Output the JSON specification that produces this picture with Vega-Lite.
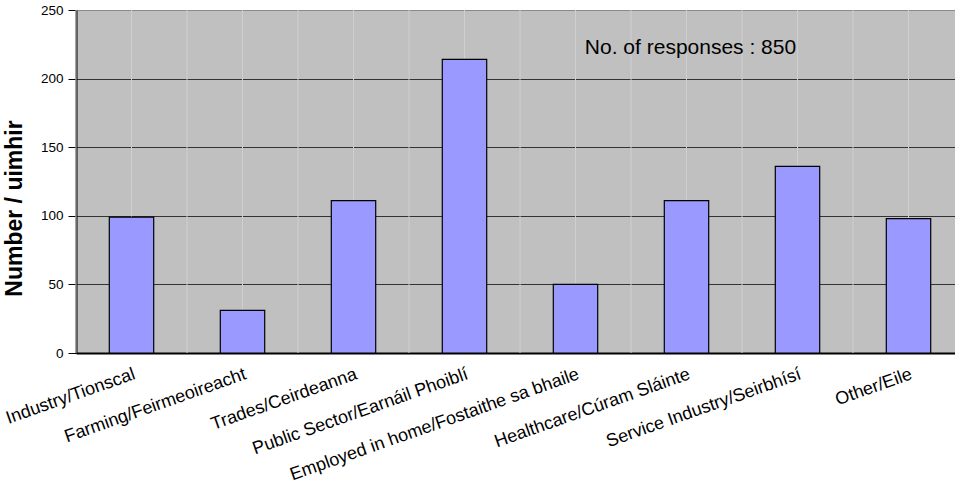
{
  "$schema": "https://vega.github.io/schema/vega-lite/v6.json",
  "autosize": {"type": "none"},
  "width": 879,
  "height": 343,
  "padding": {"left": 76, "top": 10, "right": 0, "bottom": 142},
  "background": "white",
  "config": {
    "font": "Liberation Sans",
    "view": {"fill": "#C0C0C0", "stroke": null}
  },
  "data": {
    "values": [
      {"category": "Industry/Tionscal", "count": 99},
      {"category": "Farming/Feirmeoireacht", "count": 31},
      {"category": "Trades/Ceirdeanna", "count": 111},
      {"category": "Public Sector/Earnáil Phoiblí", "count": 214},
      {"category": "Employed in home/Fostaithe sa bhaile", "count": 50},
      {"category": "Healthcare/Cúram Sláinte", "count": 111},
      {"category": "Service Industry/Seirbhísí", "count": 136},
      {"category": "Other/Eile", "count": 98}
    ]
  },
  "encoding": {
    "x": {
      "field": "category",
      "type": "nominal",
      "sort": null,
      "scale": {"paddingInner": 0, "paddingOuter": 0, "range": [0, 888]}
    }
  },
  "layer": [
    {
      "mark": {"type": "rule", "color": "#CFCFCF", "strokeWidth": 1},
      "encoding": {
        "x": {"field": "category", "type": "nominal", "sort": null, "bandPosition": 0}
      }
    },
    {
      "mark": {"type": "rule", "color": "#CFCFCF", "strokeWidth": 1},
      "encoding": {
        "x": {"field": "category", "type": "nominal", "sort": null, "bandPosition": 0.5}
      }
    },
    {
      "mark": {"type": "bar", "width": {"band": 0.4}, "fill": "#9999FF", "stroke": "#000000", "strokeWidth": 1.2},
      "encoding": {
        "x": {
          "field": "category",
          "type": "nominal",
          "sort": null,
          "axis": {
            "title": null,
            "labelAngle": -19.5,
            "labelAlign": "right",
            "labelBaseline": "top",
            "labelFontSize": 18,
            "labelColor": "#000000",
            "labelPadding": 12,
            "ticks": false,
            "domainColor": "#000000",
            "domainWidth": 2,
            "grid": false,
            "labelLimit": 500
          }
        },
        "y": {
          "field": "count",
          "type": "quantitative",
          "scale": {"domain": [0, 250], "nice": false},
          "axis": {
            "title": "Number / uimhir",
            "titleFontSize": 23,
            "titleFontWeight": "bold",
            "titleColor": "#000000",
            "titlePadding": 14,
            "titleY": 198,
            "values": [0, 50, 100, 150, 200, 250],
            "labelFontSize": 13.5,
            "labelColor": "#000000",
            "labelPadding": 5,
            "tickSize": 8,
            "tickColor": "#000000",
            "domainColor": "#000000",
            "domainWidth": 2,
            "grid": true,
            "gridColor": {"condition": {"test": "datum.value == 250", "value": "#8A8A8A"}, "value": "#333333"},
            "gridWidth": 1
          }
        }
      }
    },
    {
      "data": {"values": [{"category": "Healthcare/Cúram Sláinte", "count": 222, "label": "No. of responses : 850"}]},
      "mark": {"type": "text", "fontSize": 21, "align": "center", "baseline": "middle", "dx": 4, "color": "#000000"},
      "encoding": {
        "x": {"field": "category", "type": "nominal", "sort": null},
        "y": {"field": "count", "type": "quantitative"},
        "text": {"field": "label"}
      }
    }
  ]
}
